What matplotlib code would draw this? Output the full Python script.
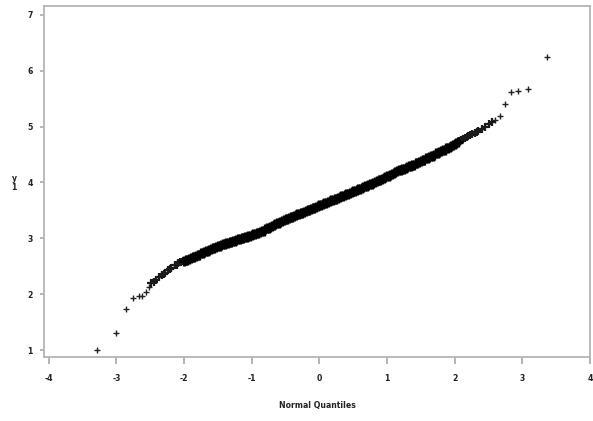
import matplotlib
matplotlib.use("Agg")
import matplotlib.pyplot as plt

# Normal quantiles (x) and sorted y1 values
outer_x = [-3.28, -3.00, -2.86, -2.76, -2.67, -2.62, -2.56, -2.52,
           2.60, 2.67, 2.75, 2.83, 2.93, 3.08, 3.36]
outer_y = [1.00, 1.31, 1.73, 1.93, 1.96, 1.96, 2.04, 2.12,
           5.12, 5.19, 5.40, 5.62, 5.63, 5.67, 6.25]

shoulder_x = [-2.49, -2.45, -2.41, -2.37, -2.33, -2.30, -2.28, -2.24, -2.21, -2.19,
              -2.14, -2.11, -2.09, -2.06, -2.04, -2.02,
              2.07, 2.10, 2.13, 2.15, 2.18, 2.20, 2.23, 2.25, 2.30, 2.33, 2.35,
              2.40, 2.45, 2.50, 2.55]
shoulder_y = [2.20, 2.22, 2.25, 2.30, 2.34, 2.36, 2.38, 2.43, 2.45, 2.47,
              2.52, 2.53, 2.55, 2.57, 2.58, 2.59,
              4.74, 4.76, 4.77, 4.79, 4.81, 4.83, 4.85, 4.86, 4.89, 4.91, 4.92,
              4.95, 4.99, 5.05, 5.09]

mid_x = [-2.00, -1.95, -1.90, -1.85, -1.80, -1.75, -1.70, -1.65, -1.60, -1.55,
         -1.50, -1.45, -1.40, -1.35, -1.30, -1.25, -1.20, -1.15, -1.10, -1.05,
         -1.00, -0.95, -0.90, -0.85, -0.80, -0.75, -0.70, -0.65, -0.60, -0.55,
         -0.50, -0.45, -0.40, -0.35, -0.30, -0.25, -0.20, -0.15, -0.10, -0.05,
         0.00, 0.05, 0.10, 0.15, 0.20, 0.25, 0.30, 0.35, 0.40, 0.45,
         0.50, 0.55, 0.60, 0.65, 0.70, 0.75, 0.80, 0.85, 0.90, 0.95,
         1.00, 1.05, 1.10, 1.15, 1.20, 1.25, 1.30, 1.35, 1.40, 1.45,
         1.50, 1.55, 1.60, 1.65, 1.70, 1.75, 1.80, 1.85, 1.90, 1.95,
         2.00, 2.05]
mid_y = [2.60, 2.62, 2.65, 2.67, 2.70, 2.73, 2.75, 2.78, 2.80, 2.83,
         2.86, 2.88, 2.90, 2.92, 2.94, 2.96, 2.98, 3.00, 3.02, 3.04,
         3.06, 3.08, 3.10, 3.13, 3.16, 3.19, 3.22, 3.25, 3.28, 3.31,
         3.34, 3.36, 3.39, 3.41, 3.44, 3.46, 3.49, 3.51, 3.54, 3.56,
         3.59, 3.61, 3.64, 3.66, 3.69, 3.71, 3.74, 3.76, 3.79, 3.81,
         3.84, 3.87, 3.89, 3.92, 3.94, 3.97, 3.99, 4.02, 4.05, 4.08,
         4.11, 4.14, 4.17, 4.20, 4.23, 4.25, 4.27, 4.30, 4.32, 4.35,
         4.38, 4.41, 4.44, 4.47, 4.50, 4.53, 4.56, 4.59, 4.62, 4.65,
         4.69, 4.72]
mid2_x = [-1.975, -1.925, -1.875, -1.825, -1.775, -1.725, -1.675, -1.625, -1.575, -1.525,
          -1.475, -1.425, -1.375, -1.325, -1.275, -1.225, -1.175, -1.125, -1.075, -1.025,
          -0.975, -0.925, -0.875, -0.825, -0.775, -0.725, -0.675, -0.625, -0.575, -0.525,
          -0.475, -0.425, -0.375, -0.325, -0.275, -0.225, -0.175, -0.125, -0.075, -0.025,
          0.025, 0.075, 0.125, 0.175, 0.225, 0.275, 0.325, 0.375, 0.425, 0.475,
          0.525, 0.575, 0.625, 0.675, 0.725, 0.775, 0.825, 0.875, 0.925, 0.975,
          1.025, 1.075, 1.125, 1.175, 1.225, 1.275, 1.325, 1.375, 1.425, 1.475,
          1.525, 1.575, 1.625, 1.675, 1.725, 1.775, 1.825, 1.875, 1.925, 1.975,
          2.025]
mid2_y = [2.62, 2.63, 2.66, 2.69, 2.71, 2.74, 2.77, 2.79, 2.82, 2.84,
          2.87, 2.89, 2.91, 2.93, 2.95, 2.97, 2.99, 3.01, 3.03, 3.05,
          3.07, 3.09, 3.12, 3.14, 3.18, 3.20, 3.24, 3.27, 3.29, 3.33,
          3.35, 3.38, 3.40, 3.43, 3.45, 3.48, 3.50, 3.53, 3.55, 3.58,
          3.60, 3.63, 3.65, 3.68, 3.70, 3.73, 3.75, 3.78, 3.80, 3.83,
          3.85, 3.88, 3.91, 3.93, 3.96, 3.98, 4.01, 4.04, 4.06, 4.10,
          4.12, 4.16, 4.18, 4.22, 4.24, 4.26, 4.29, 4.31, 4.34, 4.36,
          4.40, 4.43, 4.46, 4.48, 4.52, 4.55, 4.58, 4.61, 4.64, 4.67,
          4.70]

x_ticks = [-4, -3, -2, -1, 0, 1, 2, 3, 4]
y_ticks = [1, 2, 3, 4, 5, 6, 7]
x_label = "Normal Quantiles"
y_label = "y\n1"

fig = plt.figure(figsize=(5.93, 4.21), dpi=100)
ax = fig.add_axes([44 / 593, 1 - 357 / 421, (590 - 44) / 593, (357 - 6) / 421])

ax.plot(outer_x, outer_y, linestyle="none",
        marker="+", color="#222222", markersize=5, markeredgewidth=1.0)
ax.plot(shoulder_x, shoulder_y, linestyle="none",
        marker="+", color="#1a1a1a", markersize=5.5, markeredgewidth=1.6)
# dense band in the middle of the distribution
ax.plot(mid_x + mid2_x, mid_y + mid2_y, linestyle="none", marker="+", color="black",
        markersize=6.5, markeredgewidth=2.4)

ax.set_xlim(-4.07, 4.0)
ax.set_ylim(0.875, 7.16)
ax.set_xticks(x_ticks)
ax.set_yticks(y_ticks)
font = dict(family="DejaVu Sans", weight="bold", size=6.2, stretch="condensed")
ax.set_xticklabels([str(v) for v in x_ticks], fontdict=font, color="#222222")
ax.set_yticklabels([str(v) for v in y_ticks], fontdict=font, color="#222222")

for s in ax.spines.values():
    s.set_color("#b4b4b4")
    s.set_linewidth(1.3)
ax.tick_params(axis="x", direction="out", length=5, width=1.1, color="#a0a0a0", pad=7)
ax.tick_params(axis="y", direction="out", length=3, width=1.1, color="#a0a0a0", pad=5)

ax.set_xlabel(x_label, fontdict=font, color="#222222", labelpad=13)
fig.text(14 / 593, 1 - 183 / 421, y_label, fontdict=font, color="#222222",
         ha="center", va="center", linespacing=0.9)

fig.savefig("out.png", dpi=100)
